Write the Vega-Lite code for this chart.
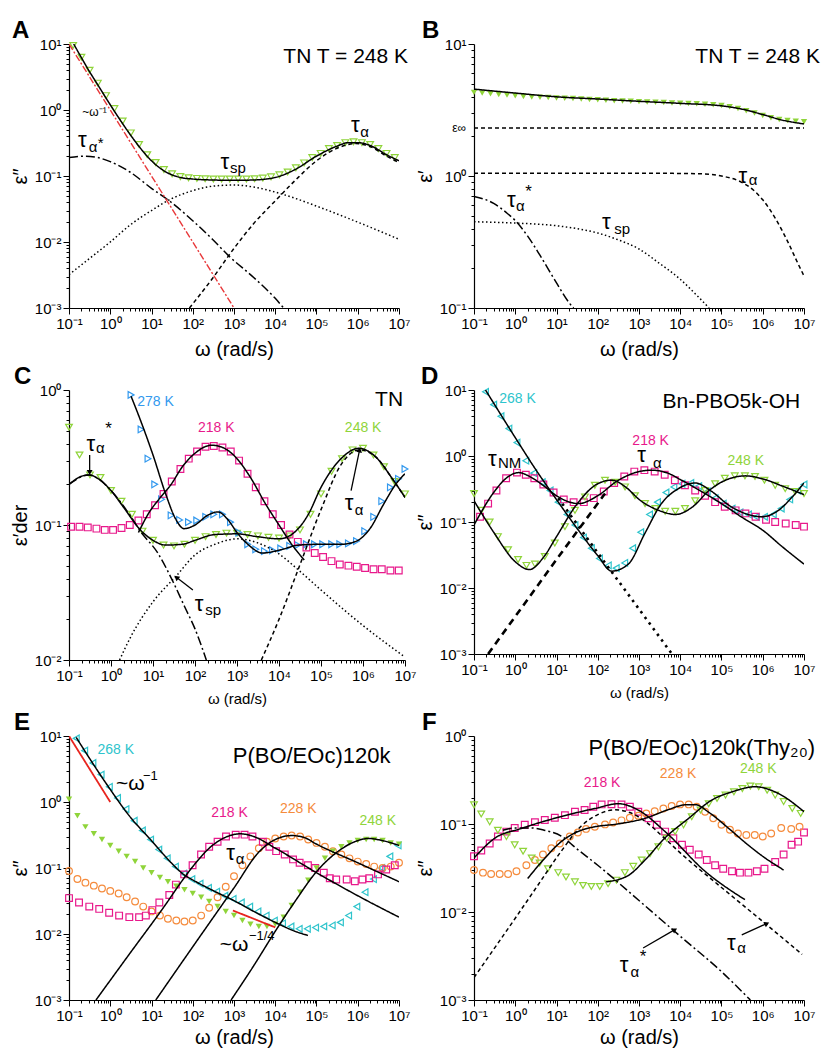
{
"$schema":"https://vega.github.io/schema/vega-lite/v6.json",
"autosize":{"type":"pad"},
"padding":{"left":10,"top":19,"right":5,"bottom":5},
"background":"white",
"columns":2,
"spacing":{"row":76,"column":69},
"bounds":"flush",
"align":"all",
"datasets":{
"A_pts":[{"w":0.126,"e":9.5,"T":"248 K"},{"w":0.2,"e":6.3,"T":"248 K"},{"w":0.316,"e":4.0,"T":"248 K"},{"w":0.5,"e":2.55,"T":"248 K"},{"w":0.79,"e":1.65,"T":"248 K"},{"w":1.26,"e":1.05,"T":"248 K"},{"w":2,"e":0.68,"T":"248 K"},{"w":3.16,"e":0.45,"T":"248 K"},{"w":5,"e":0.3,"T":"248 K"},{"w":7.9,"e":0.21,"T":"248 K"},{"w":12.6,"e":0.16,"T":"248 K"},{"w":20,"e":0.125,"T":"248 K"},{"w":31.6,"e":0.108,"T":"248 K"},{"w":50,"e":0.098,"T":"248 K"},{"w":79,"e":0.094,"T":"248 K"},{"w":126,"e":0.092,"T":"248 K"},{"w":200,"e":0.091,"T":"248 K"},{"w":316,"e":0.09,"T":"248 K"},{"w":500,"e":0.09,"T":"248 K"},{"w":790,"e":0.09,"T":"248 K"},{"w":1260,"e":0.09,"T":"248 K"},{"w":2000,"e":0.09,"T":"248 K"},{"w":3160,"e":0.091,"T":"248 K"},{"w":5000,"e":0.093,"T":"248 K"},{"w":7900,"e":0.097,"T":"248 K"},{"w":12600,"e":0.104,"T":"248 K"},{"w":20000,"e":0.115,"T":"248 K"},{"w":31600,"e":0.133,"T":"248 K"},{"w":50000,"e":0.158,"T":"248 K"},{"w":79000,"e":0.19,"T":"248 K"},{"w":126000,"e":0.22,"T":"248 K"},{"w":200000,"e":0.26,"T":"248 K"},{"w":316000,"e":0.29,"T":"248 K"},{"w":500000,"e":0.32,"T":"248 K"},{"w":790000,"e":0.33,"T":"248 K"},{"w":1260000,"e":0.32,"T":"248 K"},{"w":2000000,"e":0.3,"T":"248 K"},{"w":3160000,"e":0.26,"T":"248 K"},{"w":5000000,"e":0.22,"T":"248 K"},{"w":7900000,"e":0.19,"T":"248 K"}],
"A_lines":[
{"s":"fit","id":"f","w":0.13,"e":10},{"s":"fit","id":"f","w":0.2,"e":6.2},{"s":"fit","id":"f","w":0.3,"e":4.0},{"s":"fit","id":"f","w":0.5,"e":2.4},{"s":"fit","id":"f","w":1,"e":1.2},{"s":"fit","id":"f","w":2,"e":0.62},{"s":"fit","id":"f","w":3,"e":0.43},{"s":"fit","id":"f","w":5,"e":0.28},{"s":"fit","id":"f","w":10,"e":0.17},{"s":"fit","id":"f","w":20,"e":0.12},{"s":"fit","id":"f","w":50,"e":0.095},{"s":"fit","id":"f","w":100,"e":0.09},{"s":"fit","id":"f","w":300,"e":0.087},{"s":"fit","id":"f","w":1000,"e":0.086},{"s":"fit","id":"f","w":3000,"e":0.087},{"s":"fit","id":"f","w":10000,"e":0.095},{"s":"fit","id":"f","w":30000,"e":0.125},{"s":"fit","id":"f","w":100000,"e":0.2},{"s":"fit","id":"f","w":300000,"e":0.28},{"s":"fit","id":"f","w":600000,"e":0.32},{"s":"fit","id":"f","w":1000000,"e":0.32},{"s":"fit","id":"f","w":2000000,"e":0.29},{"s":"fit","id":"f","w":5000000,"e":0.21},{"s":"fit","id":"f","w":10000000,"e":0.17},
{"s":"tas","id":"b","w":0.1,"e":0.19},{"s":"tas","id":"b","w":0.25,"e":0.2},{"s":"tas","id":"b","w":0.5,"e":0.19},{"s":"tas","id":"b","w":1,"e":0.165},{"s":"tas","id":"b","w":3,"e":0.115},{"s":"tas","id":"b","w":10,"e":0.065},{"s":"tas","id":"b","w":30,"e":0.04},{"s":"tas","id":"b","w":100,"e":0.021},{"s":"tas","id":"b","w":300,"e":0.011},{"s":"tas","id":"b","w":780,"e":0.006},{"s":"tas","id":"b","w":3000,"e":0.0029},{"s":"tas","id":"b","w":10000,"e":0.0014},{"s":"tas","id":"b","w":16000,"e":0.001},
{"s":"tsp","id":"c","w":0.1,"e":0.0032},{"s":"tsp","id":"c","w":0.3,"e":0.0055},{"s":"tsp","id":"c","w":1,"e":0.01},{"s":"tsp","id":"c","w":3,"e":0.018},{"s":"tsp","id":"c","w":10,"e":0.03},{"s":"tsp","id":"c","w":30,"e":0.045},{"s":"tsp","id":"c","w":100,"e":0.06},{"s":"tsp","id":"c","w":300,"e":0.07},{"s":"tsp","id":"c","w":1000,"e":0.073},{"s":"tsp","id":"c","w":3000,"e":0.068},{"s":"tsp","id":"c","w":10000,"e":0.057},{"s":"tsp","id":"c","w":30000,"e":0.046},{"s":"tsp","id":"c","w":100000,"e":0.035},{"s":"tsp","id":"c","w":1000000,"e":0.02},{"s":"tsp","id":"c","w":10000000,"e":0.011},
{"s":"ta","id":"d","w":83,"e":0.001},{"s":"ta","id":"d","w":300,"e":0.0028},{"s":"ta","id":"d","w":1000,"e":0.008},{"s":"ta","id":"d","w":3000,"e":0.019},{"s":"ta","id":"d","w":10000,"e":0.042},{"s":"ta","id":"d","w":30000,"e":0.085},{"s":"ta","id":"d","w":100000,"e":0.17},{"s":"ta","id":"d","w":300000,"e":0.26},{"s":"ta","id":"d","w":600000,"e":0.3},{"s":"ta","id":"d","w":900000,"e":0.31},{"s":"ta","id":"d","w":2000000,"e":0.28},{"s":"ta","id":"d","w":5000000,"e":0.2},{"s":"ta","id":"d","w":10000000,"e":0.16}],
"A_red":[{"s":"red","id":"r","w":0.1,"e":10},{"s":"red","id":"r","w":1000,"e":0.001}],
"A_txt":[{"w":0.21,"e":0.93,"t":"~ω⁻¹","k":"small","c":"ink"},{"w":0.166,"e":0.35,"t":"τ","k":"sym","c":"ink"},{"w":0.3,"e":0.278,"t":"α","k":"sub","c":"ink"},{"w":0.5,"e":0.32,"t":"*","k":"sub","c":"ink"},{"w":470,"e":0.165,"t":"τ","k":"sym","c":"ink"},{"w":800,"e":0.13,"t":"sp","k":"sub","c":"ink"},{"w":690000,"e":0.59,"t":"τ","k":"sym","c":"ink"},{"w":1150000,"e":0.47,"t":"α","k":"sub","c":"ink"}],
"A_ttl":[{"w":16600000,"e":6.3,"t":"TN T = 248 K"}],
"B_pts":[{"w":0.1,"e":4.3,"T":"248 K"},{"w":0.158,"e":4.25,"T":"248 K"},{"w":0.251,"e":4.2,"T":"248 K"},{"w":0.398,"e":4.15,"T":"248 K"},{"w":0.631,"e":4.1,"T":"248 K"},{"w":1,"e":4.05,"T":"248 K"},{"w":1.58,"e":4.0,"T":"248 K"},{"w":2.51,"e":3.97,"T":"248 K"},{"w":3.98,"e":3.95,"T":"248 K"},{"w":6.31,"e":3.93,"T":"248 K"},{"w":10,"e":3.9,"T":"248 K"},{"w":15.8,"e":3.88,"T":"248 K"},{"w":25.1,"e":3.86,"T":"248 K"},{"w":39.8,"e":3.83,"T":"248 K"},{"w":63.1,"e":3.8,"T":"248 K"},{"w":100,"e":3.78,"T":"248 K"},{"w":158,"e":3.75,"T":"248 K"},{"w":251,"e":3.72,"T":"248 K"},{"w":398,"e":3.7,"T":"248 K"},{"w":631,"e":3.68,"T":"248 K"},{"w":1000,"e":3.66,"T":"248 K"},{"w":1580,"e":3.64,"T":"248 K"},{"w":2510,"e":3.62,"T":"248 K"},{"w":3980,"e":3.6,"T":"248 K"},{"w":6310,"e":3.58,"T":"248 K"},{"w":10000,"e":3.56,"T":"248 K"},{"w":15800,"e":3.54,"T":"248 K"},{"w":25100,"e":3.52,"T":"248 K"},{"w":39800,"e":3.5,"T":"248 K"},{"w":63100,"e":3.47,"T":"248 K"},{"w":100000,"e":3.42,"T":"248 K"},{"w":158000,"e":3.35,"T":"248 K"},{"w":251000,"e":3.25,"T":"248 K"},{"w":398000,"e":3.12,"T":"248 K"},{"w":631000,"e":3.0,"T":"248 K"},{"w":1000000,"e":2.87,"T":"248 K"},{"w":1580000,"e":2.76,"T":"248 K"},{"w":2510000,"e":2.68,"T":"248 K"},{"w":3980000,"e":2.63,"T":"248 K"},{"w":6310000,"e":2.6,"T":"248 K"},{"w":10000000,"e":2.58,"T":"248 K"}],
"B_lines":[
{"s":"fit","id":"f","w":0.1,"e":4.55},{"s":"fit","id":"f","w":1,"e":4.25},{"s":"fit","id":"f","w":10,"e":3.98},{"s":"fit","id":"f","w":100,"e":3.83},{"s":"fit","id":"f","w":1000,"e":3.68},{"s":"fit","id":"f","w":10000,"e":3.55},{"s":"fit","id":"f","w":100000,"e":3.4},{"s":"fit","id":"f","w":300000,"e":3.22},{"s":"fit","id":"f","w":1000000,"e":2.92},{"s":"fit","id":"f","w":3000000,"e":2.65},{"s":"fit","id":"f","w":10000000,"e":2.48},
{"s":"einf","id":"g","w":0.1,"e":2.31},{"s":"einf","id":"g","w":10000000,"e":2.31},
{"s":"ta","id":"d","w":0.1,"e":1.05},{"s":"ta","id":"d","w":1000,"e":1.05},{"s":"ta","id":"d","w":30000,"e":1.04},{"s":"ta","id":"d","w":100000,"e":1.0},{"s":"ta","id":"d","w":300000,"e":0.9},{"s":"ta","id":"d","w":600000,"e":0.78},{"s":"ta","id":"d","w":1000000,"e":0.66},{"s":"ta","id":"d","w":2000000,"e":0.48},{"s":"ta","id":"d","w":4000000,"e":0.32},{"s":"ta","id":"d","w":7000000,"e":0.22},{"s":"ta","id":"d","w":10000000,"e":0.175},
{"s":"tas","id":"b","w":0.1,"e":0.7},{"s":"tas","id":"b","w":0.3,"e":0.62},{"s":"tas","id":"b","w":0.6,"e":0.53},{"s":"tas","id":"b","w":1,"e":0.46},{"s":"tas","id":"b","w":2,"e":0.35},{"s":"tas","id":"b","w":4,"e":0.25},{"s":"tas","id":"b","w":10,"e":0.155},{"s":"tas","id":"b","w":20,"e":0.11},{"s":"tas","id":"b","w":26,"e":0.1},
{"s":"tsp","id":"c","w":0.1,"e":0.45},{"s":"tsp","id":"c","w":1,"e":0.44},{"s":"tsp","id":"c","w":10,"e":0.42},{"s":"tsp","id":"c","w":30,"e":0.4},{"s":"tsp","id":"c","w":100,"e":0.37},{"s":"tsp","id":"c","w":300,"e":0.33},{"s":"tsp","id":"c","w":1000,"e":0.28},{"s":"tsp","id":"c","w":3000,"e":0.22},{"s":"tsp","id":"c","w":10000,"e":0.165},{"s":"tsp","id":"c","w":25000,"e":0.125},{"s":"tsp","id":"c","w":50000,"e":0.1}],
"B_txt":[{"w":0.0295,"e":2.3,"t":"ε∞","k":"small","c":"ink"},{"w":260000,"e":1.0,"t":"τ","k":"sym","c":"ink"},{"w":460000,"e":0.93,"t":"α","k":"sub","c":"ink"},{"w":0.63,"e":0.66,"t":"τ","k":"sym","c":"ink"},{"w":1.05,"e":0.59,"t":"α","k":"sub","c":"ink"},{"w":1.75,"e":0.75,"t":"*","k":"star","c":"ink"},{"w":126,"e":0.45,"t":"τ","k":"sym","c":"ink"},{"w":250,"e":0.4,"t":"sp","k":"sub","c":"ink"}],
"B_ttl":[{"w":24500000,"e":7.96,"t":"TN T = 248 K"}],
"C_pts":[
{"w":0.1,"e":0.53,"T":"248 K"},{"w":0.178,"e":0.33,"T":"248 K"},{"w":0.316,"e":0.235,"T":"248 K"},{"w":0.562,"e":0.225,"T":"248 K"},{"w":1,"e":0.18,"T":"248 K"},{"w":1.78,"e":0.15,"T":"248 K"},{"w":3.16,"e":0.12,"T":"248 K"},{"w":5.62,"e":0.09,"T":"248 K"},{"w":10,"e":0.077,"T":"248 K"},{"w":17.8,"e":0.071,"T":"248 K"},{"w":31.6,"e":0.07,"T":"248 K"},{"w":56.2,"e":0.072,"T":"248 K"},{"w":100,"e":0.077,"T":"248 K"},{"w":178,"e":0.082,"T":"248 K"},{"w":316,"e":0.085,"T":"248 K"},{"w":562,"e":0.087,"T":"248 K"},{"w":1000,"e":0.087,"T":"248 K"},{"w":1780,"e":0.085,"T":"248 K"},{"w":3160,"e":0.083,"T":"248 K"},{"w":5620,"e":0.081,"T":"248 K"},{"w":10000,"e":0.08,"T":"248 K"},{"w":17800,"e":0.083,"T":"248 K"},{"w":31600,"e":0.092,"T":"248 K"},{"w":56200,"e":0.12,"T":"248 K"},{"w":100000,"e":0.17,"T":"248 K"},{"w":178000,"e":0.25,"T":"248 K"},{"w":316000,"e":0.31,"T":"248 K"},{"w":562000,"e":0.36,"T":"248 K"},{"w":1000000,"e":0.37,"T":"248 K"},{"w":1780000,"e":0.33,"T":"248 K"},{"w":3160000,"e":0.27,"T":"248 K"},{"w":5620000,"e":0.21,"T":"248 K"},{"w":10000000,"e":0.17,"T":"248 K"},
{"w":3,"e":0.92,"T":"278 K"},{"w":5.2,"e":0.51,"T":"278 K"},{"w":7.6,"e":0.31,"T":"278 K"},{"w":11,"e":0.2,"T":"278 K"},{"w":16,"e":0.155,"T":"278 K"},{"w":27,"e":0.118,"T":"278 K"},{"w":43,"e":0.109,"T":"278 K"},{"w":70,"e":0.105,"T":"278 K"},{"w":110,"e":0.108,"T":"278 K"},{"w":180,"e":0.115,"T":"278 K"},{"w":280,"e":0.12,"T":"278 K"},{"w":450,"e":0.12,"T":"278 K"},{"w":700,"e":0.105,"T":"278 K"},{"w":1100,"e":0.088,"T":"278 K"},{"w":1800,"e":0.072,"T":"278 K"},{"w":2800,"e":0.066,"T":"278 K"},{"w":4500,"e":0.064,"T":"278 K"},{"w":7000,"e":0.065,"T":"278 K"},{"w":11000,"e":0.067,"T":"278 K"},{"w":18000,"e":0.07,"T":"278 K"},{"w":28000,"e":0.071,"T":"278 K"},{"w":45000,"e":0.072,"T":"278 K"},{"w":70000,"e":0.072,"T":"278 K"},{"w":110000,"e":0.072,"T":"278 K"},{"w":180000,"e":0.072,"T":"278 K"},{"w":280000,"e":0.072,"T":"278 K"},{"w":450000,"e":0.073,"T":"278 K"},{"w":700000,"e":0.076,"T":"278 K"},{"w":1100000,"e":0.09,"T":"278 K"},{"w":1800000,"e":0.115,"T":"278 K"},{"w":2800000,"e":0.15,"T":"278 K"},{"w":4500000,"e":0.19,"T":"278 K"},{"w":7000000,"e":0.22,"T":"278 K"},{"w":10000000,"e":0.26,"T":"278 K"},
{"w":0.112,"e":0.097,"T":"218 K"},{"w":0.178,"e":0.097,"T":"218 K"},{"w":0.28,"e":0.096,"T":"218 K"},{"w":0.45,"e":0.094,"T":"218 K"},{"w":0.71,"e":0.092,"T":"218 K"},{"w":1.12,"e":0.092,"T":"218 K"},{"w":1.78,"e":0.095,"T":"218 K"},{"w":2.8,"e":0.1,"T":"218 K"},{"w":4.5,"e":0.108,"T":"218 K"},{"w":7.1,"e":0.12,"T":"218 K"},{"w":11.2,"e":0.14,"T":"218 K"},{"w":17.8,"e":0.17,"T":"218 K"},{"w":28,"e":0.21,"T":"218 K"},{"w":45,"e":0.26,"T":"218 K"},{"w":71,"e":0.31,"T":"218 K"},{"w":112,"e":0.35,"T":"218 K"},{"w":178,"e":0.38,"T":"218 K"},{"w":280,"e":0.385,"T":"218 K"},{"w":450,"e":0.375,"T":"218 K"},{"w":710,"e":0.35,"T":"218 K"},{"w":1120,"e":0.3,"T":"218 K"},{"w":1780,"e":0.24,"T":"218 K"},{"w":2800,"e":0.19,"T":"218 K"},{"w":4500,"e":0.15,"T":"218 K"},{"w":7100,"e":0.12,"T":"218 K"},{"w":11200,"e":0.1,"T":"218 K"},{"w":17800,"e":0.085,"T":"218 K"},{"w":28000,"e":0.075,"T":"218 K"},{"w":45000,"e":0.068,"T":"218 K"},{"w":71000,"e":0.062,"T":"218 K"},{"w":112000,"e":0.058,"T":"218 K"},{"w":178000,"e":0.054,"T":"218 K"},{"w":280000,"e":0.051,"T":"218 K"},{"w":450000,"e":0.05,"T":"218 K"},{"w":710000,"e":0.049,"T":"218 K"},{"w":1120000,"e":0.048,"T":"218 K"},{"w":1780000,"e":0.047,"T":"218 K"},{"w":2800000,"e":0.047,"T":"218 K"},{"w":4500000,"e":0.046,"T":"218 K"},{"w":7100000,"e":0.046,"T":"218 K"}],
"C_lines":[
{"s":"fit","id":"g","w":0.1,"e":0.2},{"s":"fit","id":"g","w":0.2,"e":0.23},{"s":"fit","id":"g","w":0.3,"e":0.235},{"s":"fit","id":"g","w":0.5,"e":0.22},{"s":"fit","id":"g","w":1,"e":0.18},{"s":"fit","id":"g","w":2,"e":0.135},{"s":"fit","id":"g","w":5,"e":0.092},{"s":"fit","id":"g","w":10,"e":0.077},{"s":"fit","id":"g","w":20,"e":0.071},{"s":"fit","id":"g","w":50,"e":0.072},{"s":"fit","id":"g","w":100,"e":0.077},{"s":"fit","id":"g","w":300,"e":0.085},{"s":"fit","id":"g","w":1000,"e":0.086},{"s":"fit","id":"g","w":3000,"e":0.082},{"s":"fit","id":"g","w":10000,"e":0.079},{"s":"fit","id":"g","w":20000,"e":0.085},{"s":"fit","id":"g","w":50000,"e":0.12},{"s":"fit","id":"g","w":100000,"e":0.19},{"s":"fit","id":"g","w":300000,"e":0.31},{"s":"fit","id":"g","w":800000,"e":0.37},{"s":"fit","id":"g","w":2000000,"e":0.32},{"s":"fit","id":"g","w":5000000,"e":0.22},{"s":"fit","id":"g","w":10000000,"e":0.16},
{"s":"fit","id":"bl","w":3,"e":0.9},{"s":"fit","id":"bl","w":5,"e":0.6},{"s":"fit","id":"bl","w":10,"e":0.33},{"s":"fit","id":"bl","w":20,"e":0.17},{"s":"fit","id":"bl","w":35,"e":0.11},{"s":"fit","id":"bl","w":55,"e":0.094},{"s":"fit","id":"bl","w":100,"e":0.1},{"s":"fit","id":"bl","w":200,"e":0.118},{"s":"fit","id":"bl","w":350,"e":0.125},{"s":"fit","id":"bl","w":600,"e":0.11},{"s":"fit","id":"bl","w":1000,"e":0.088},{"s":"fit","id":"bl","w":2000,"e":0.07},{"s":"fit","id":"bl","w":4000,"e":0.062},{"s":"fit","id":"bl","w":10000,"e":0.065},{"s":"fit","id":"bl","w":30000,"e":0.071},{"s":"fit","id":"bl","w":100000,"e":0.072},{"s":"fit","id":"bl","w":300000,"e":0.072},{"s":"fit","id":"bl","w":700000,"e":0.076},{"s":"fit","id":"bl","w":1500000,"e":0.095},{"s":"fit","id":"bl","w":3000000,"e":0.14},{"s":"fit","id":"bl","w":6000000,"e":0.2},{"s":"fit","id":"bl","w":10000000,"e":0.24},
{"s":"fit","id":"p","w":4.5,"e":0.088},{"s":"fit","id":"p","w":7.6,"e":0.12},{"s":"fit","id":"p","w":15,"e":0.16},{"s":"fit","id":"p","w":27,"e":0.2},{"s":"fit","id":"p","w":50,"e":0.27},{"s":"fit","id":"p","w":100,"e":0.34},{"s":"fit","id":"p","w":250,"e":0.39},{"s":"fit","id":"p","w":500,"e":0.37},{"s":"fit","id":"p","w":1000,"e":0.31},{"s":"fit","id":"p","w":2000,"e":0.23},{"s":"fit","id":"p","w":5000,"e":0.14},{"s":"fit","id":"p","w":10000,"e":0.1},{"s":"fit","id":"p","w":20000,"e":0.072},{"s":"fit","id":"p","w":40000,"e":0.055},
{"s":"tas","id":"b","w":0.1,"e":0.2},{"s":"tas","id":"b","w":0.3,"e":0.235},{"s":"tas","id":"b","w":0.5,"e":0.22},{"s":"tas","id":"b","w":1,"e":0.18},{"s":"tas","id":"b","w":3,"e":0.115},{"s":"tas","id":"b","w":5,"e":0.09},{"s":"tas","id":"b","w":13,"e":0.062},{"s":"tas","id":"b","w":30,"e":0.038},{"s":"tas","id":"b","w":56,"e":0.025},{"s":"tas","id":"b","w":100,"e":0.017},{"s":"tas","id":"b","w":186,"e":0.01},
{"s":"tsp","id":"c","w":1.6,"e":0.01},{"s":"tsp","id":"c","w":3,"e":0.015},{"s":"tsp","id":"c","w":10,"e":0.027},{"s":"tsp","id":"c","w":36,"e":0.042},{"s":"tsp","id":"c","w":100,"e":0.06},{"s":"tsp","id":"c","w":300,"e":0.072},{"s":"tsp","id":"c","w":1000,"e":0.079},{"s":"tsp","id":"c","w":3000,"e":0.074},{"s":"tsp","id":"c","w":10000,"e":0.061},{"s":"tsp","id":"c","w":30000,"e":0.046},{"s":"tsp","id":"c","w":100000,"e":0.033},{"s":"tsp","id":"c","w":1000000,"e":0.018},{"s":"tsp","id":"c","w":10000000,"e":0.0105},
{"s":"ta","id":"d","w":3800,"e":0.01},{"s":"ta","id":"d","w":10000,"e":0.02},{"s":"ta","id":"d","w":28000,"e":0.046},{"s":"ta","id":"d","w":100000,"e":0.13},{"s":"ta","id":"d","w":300000,"e":0.28},{"s":"ta","id":"d","w":800000,"e":0.36},{"s":"ta","id":"d","w":2000000,"e":0.32},{"s":"ta","id":"d","w":5000000,"e":0.22},{"s":"ta","id":"d","w":10000000,"e":0.16}],
"C_txt":[{"w":4.2,"e":0.82,"t":"278 K","k":"lab","c":"278 K"},{"w":118,"e":0.52,"t":"218 K","k":"lab","c":"218 K"},{"w":370000,"e":0.52,"t":"248 K","k":"lab","c":"248 K"},{"w":0.26,"e":0.4,"t":"τ","k":"sym","c":"ink"},{"w":0.44,"e":0.37,"t":"α","k":"sub","c":"ink"},{"w":0.73,"e":0.51,"t":"*","k":"star","c":"ink"},{"w":370000,"e":0.145,"t":"τ","k":"sym","c":"ink"},{"w":640000,"e":0.13,"t":"α","k":"sub","c":"ink"},{"w":98,"e":0.026,"t":"τ","k":"sym","c":"ink"},{"w":175,"e":0.0235,"t":"sp","k":"sub","c":"ink"}],
"C_ttl":[{"w":9000000,"e":0.84,"t":"TN"}],
"C_arr":[{"a":"a1","w":0.31,"e":0.33,"w2":0.31,"e2":0.245},{"a":"a2","w":520000,"e":0.18,"w2":830000,"e2":0.36},{"a":"a3","w":89,"e":0.033,"w2":36,"e2":0.041}],
"D_pts":[
{"w":0.19,"e":9.4,"T":"268 K"},{"w":0.3,"e":6.0,"T":"268 K"},{"w":0.45,"e":4.0,"T":"268 K"},{"w":0.7,"e":2.6,"T":"268 K"},{"w":1.1,"e":1.6,"T":"268 K"},{"w":1.8,"e":0.85,"T":"268 K"},{"w":2.8,"e":0.55,"T":"268 K"},{"w":4.5,"e":0.4,"T":"268 K"},{"w":7,"e":0.3,"T":"268 K"},{"w":11,"e":0.2,"T":"268 K"},{"w":18,"e":0.13,"T":"268 K"},{"w":28,"e":0.09,"T":"268 K"},{"w":45,"e":0.058,"T":"268 K"},{"w":70,"e":0.04,"T":"268 K"},{"w":110,"e":0.028,"T":"268 K"},{"w":180,"e":0.022,"T":"268 K"},{"w":280,"e":0.02,"T":"268 K"},{"w":450,"e":0.024,"T":"268 K"},{"w":700,"e":0.04,"T":"268 K"},{"w":1100,"e":0.07,"T":"268 K"},{"w":1800,"e":0.13,"T":"268 K"},{"w":2800,"e":0.2,"T":"268 K"},{"w":4500,"e":0.28,"T":"268 K"},{"w":7000,"e":0.34,"T":"268 K"},{"w":11000,"e":0.38,"T":"268 K"},{"w":18000,"e":0.39,"T":"268 K"},{"w":28000,"e":0.35,"T":"268 K"},{"w":45000,"e":0.29,"T":"268 K"},{"w":70000,"e":0.23,"T":"268 K"},{"w":110000,"e":0.19,"T":"268 K"},{"w":180000,"e":0.16,"T":"268 K"},{"w":280000,"e":0.14,"T":"268 K"},{"w":450000,"e":0.13,"T":"268 K"},{"w":700000,"e":0.12,"T":"268 K"},{"w":1100000,"e":0.12,"T":"268 K"},{"w":1800000,"e":0.13,"T":"268 K"},{"w":2800000,"e":0.16,"T":"268 K"},{"w":4500000,"e":0.22,"T":"268 K"},{"w":7000000,"e":0.3,"T":"268 K"},{"w":10000000,"e":0.37,"T":"268 K"},
{"w":0.14,"e":0.12,"T":"218 K"},{"w":0.22,"e":0.19,"T":"218 K"},{"w":0.35,"e":0.3,"T":"218 K"},{"w":0.6,"e":0.46,"T":"218 K"},{"w":1.1,"e":0.56,"T":"218 K"},{"w":1.8,"e":0.52,"T":"218 K"},{"w":2.9,"e":0.46,"T":"218 K"},{"w":4.8,"e":0.37,"T":"218 K"},{"w":8.5,"e":0.28,"T":"218 K"},{"w":15,"e":0.22,"T":"218 K"},{"w":26,"e":0.2,"T":"218 K"},{"w":46,"e":0.2,"T":"218 K"},{"w":80,"e":0.23,"T":"218 K"},{"w":140,"e":0.29,"T":"218 K"},{"w":250,"e":0.39,"T":"218 K"},{"w":440,"e":0.49,"T":"218 K"},{"w":770,"e":0.58,"T":"218 K"},{"w":1350,"e":0.61,"T":"218 K"},{"w":2400,"e":0.58,"T":"218 K"},{"w":4200,"e":0.52,"T":"218 K"},{"w":7400,"e":0.43,"T":"218 K"},{"w":13000,"e":0.36,"T":"218 K"},{"w":23000,"e":0.3,"T":"218 K"},{"w":40000,"e":0.25,"T":"218 K"},{"w":70000,"e":0.2,"T":"218 K"},{"w":120000,"e":0.17,"T":"218 K"},{"w":220000,"e":0.15,"T":"218 K"},{"w":380000,"e":0.135,"T":"218 K"},{"w":670000,"e":0.12,"T":"218 K"},{"w":1200000,"e":0.108,"T":"218 K"},{"w":2000000,"e":0.1,"T":"218 K"},{"w":3600000,"e":0.095,"T":"218 K"},{"w":6300000,"e":0.09,"T":"218 K"},{"w":10000000,"e":0.085,"T":"218 K"},
{"w":0.1,"e":0.27,"T":"248 K"},{"w":0.15,"e":0.15,"T":"248 K"},{"w":0.24,"e":0.1,"T":"248 K"},{"w":0.38,"e":0.06,"T":"248 K"},{"w":0.67,"e":0.038,"T":"248 K"},{"w":1.17,"e":0.027,"T":"248 K"},{"w":1.87,"e":0.022,"T":"248 K"},{"w":3,"e":0.023,"T":"248 K"},{"w":5.2,"e":0.03,"T":"248 K"},{"w":9.1,"e":0.048,"T":"248 K"},{"w":16,"e":0.085,"T":"248 K"},{"w":28,"e":0.15,"T":"248 K"},{"w":49,"e":0.24,"T":"248 K"},{"w":85,"e":0.36,"T":"248 K"},{"w":150,"e":0.43,"T":"248 K"},{"w":265,"e":0.4,"T":"248 K"},{"w":460,"e":0.34,"T":"248 K"},{"w":800,"e":0.25,"T":"248 K"},{"w":1400,"e":0.19,"T":"248 K"},{"w":2500,"e":0.16,"T":"248 K"},{"w":4300,"e":0.145,"T":"248 K"},{"w":7600,"e":0.145,"T":"248 K"},{"w":13000,"e":0.16,"T":"248 K"},{"w":23000,"e":0.21,"T":"248 K"},{"w":40000,"e":0.3,"T":"248 K"},{"w":70000,"e":0.38,"T":"248 K"},{"w":120000,"e":0.46,"T":"248 K"},{"w":210000,"e":0.5,"T":"248 K"},{"w":370000,"e":0.5,"T":"248 K"},{"w":650000,"e":0.49,"T":"248 K"},{"w":1100000,"e":0.43,"T":"248 K"},{"w":2000000,"e":0.36,"T":"248 K"},{"w":3500000,"e":0.32,"T":"248 K"},{"w":6100000,"e":0.29,"T":"248 K"},{"w":10000000,"e":0.27,"T":"248 K"}],
"D_lines":[
{"s":"fit","id":"cy","w":0.19,"e":10},{"s":"fit","id":"cy","w":1,"e":1.9},{"s":"fit","id":"cy","w":3,"e":0.65},{"s":"fit","id":"cy","w":9,"e":0.24},{"s":"fit","id":"cy","w":34,"e":0.075},{"s":"fit","id":"cy","w":100,"e":0.031},{"s":"fit","id":"cy","w":218,"e":0.018},{"s":"fit","id":"cy","w":550,"e":0.023},{"s":"fit","id":"cy","w":1400,"e":0.068},{"s":"fit","id":"cy","w":3500,"e":0.19},{"s":"fit","id":"cy","w":9000,"e":0.32},{"s":"fit","id":"cy","w":23000,"e":0.39},{"s":"fit","id":"cy","w":58000,"e":0.29},{"s":"fit","id":"cy","w":150000,"e":0.18},{"s":"fit","id":"cy","w":370000,"e":0.135},{"s":"fit","id":"cy","w":950000,"e":0.12},{"s":"fit","id":"cy","w":2400000,"e":0.15},{"s":"fit","id":"cy","w":5200000,"e":0.24},{"s":"fit","id":"cy","w":10000000,"e":0.39},
{"s":"fit","id":"p","w":0.1,"e":0.09},{"s":"fit","id":"p","w":0.3,"e":0.28},{"s":"fit","id":"p","w":0.6,"e":0.46},{"s":"fit","id":"p","w":1.2,"e":0.56},{"s":"fit","id":"p","w":2.5,"e":0.47},{"s":"fit","id":"p","w":5,"e":0.35},{"s":"fit","id":"p","w":10,"e":0.25},{"s":"fit","id":"p","w":34,"e":0.19},{"s":"fit","id":"p","w":100,"e":0.25},{"s":"fit","id":"p","w":300,"e":0.42},{"s":"fit","id":"p","w":1000,"e":0.58},{"s":"fit","id":"p","w":2000,"e":0.61},{"s":"fit","id":"p","w":5000,"e":0.55},{"s":"fit","id":"p","w":10000,"e":0.44},{"s":"fit","id":"p","w":30000,"e":0.3},{"s":"fit","id":"p","w":100000,"e":0.19},{"s":"fit","id":"p","w":300000,"e":0.12},{"s":"fit","id":"p","w":1000000,"e":0.075},{"s":"fit","id":"p","w":3000000,"e":0.042},{"s":"fit","id":"p","w":10000000,"e":0.023},
{"s":"fit","id":"g","w":0.1,"e":0.21},{"s":"fit","id":"g","w":0.3,"e":0.07},{"s":"fit","id":"g","w":1,"e":0.025},{"s":"fit","id":"g","w":2.2,"e":0.019},{"s":"fit","id":"g","w":5,"e":0.03},{"s":"fit","id":"g","w":10,"e":0.06},{"s":"fit","id":"g","w":30,"e":0.18},{"s":"fit","id":"g","w":100,"e":0.38},{"s":"fit","id":"g","w":218,"e":0.43},{"s":"fit","id":"g","w":500,"e":0.33},{"s":"fit","id":"g","w":1000,"e":0.22},{"s":"fit","id":"g","w":3000,"e":0.15},{"s":"fit","id":"g","w":7600,"e":0.13},{"s":"fit","id":"g","w":20000,"e":0.17},{"s":"fit","id":"g","w":50000,"e":0.3},{"s":"fit","id":"g","w":150000,"e":0.45},{"s":"fit","id":"g","w":380000,"e":0.5},{"s":"fit","id":"g","w":1000000,"e":0.45},{"s":"fit","id":"g","w":3000000,"e":0.35},{"s":"fit","id":"g","w":10000000,"e":0.26}],
"D_thick":[{"s":"taB","id":"t","w":0.22,"e":0.001},{"s":"taB","id":"t","w":1,"e":0.0037},{"s":"taB","id":"t","w":10,"e":0.027},{"s":"taB","id":"t","w":150,"e":0.27},{"s":"nmB","id":"n","w":11,"e":0.23},{"s":"nmB","id":"n","w":100,"e":0.034},{"s":"nmB","id":"n","w":1000,"e":0.0048},{"s":"nmB","id":"n","w":6300,"e":0.001}],
"D_txt":[{"w":0.41,"e":7.4,"t":"268 K","k":"lab","c":"268 K"},{"w":690,"e":1.69,"t":"218 K","k":"lab","c":"218 K"},{"w":140000,"e":0.83,"t":"248 K","k":"lab","c":"248 K"},{"w":0.22,"e":0.91,"t":"τ","k":"sym","c":"ink"},{"w":0.38,"e":0.77,"t":"NM","k":"sub","c":"ink"},{"w":910,"e":1.02,"t":"τ","k":"sym","c":"ink"},{"w":2200,"e":0.79,"t":"α","k":"sub","c":"ink"}],
"D_ttl":[{"w":8100000,"e":6.6,"t":"Bn-PBO5k-OH"}],
"E_pts":[
{"w":0.15,"e":9.2,"T":"268 K"},{"w":0.24,"e":6.0,"T":"268 K"},{"w":0.38,"e":3.9,"T":"268 K"},{"w":0.6,"e":2.6,"T":"268 K"},{"w":0.95,"e":1.7,"T":"268 K"},{"w":1.5,"e":1.15,"T":"268 K"},{"w":2.4,"e":0.78,"T":"268 K"},{"w":3.8,"e":0.52,"T":"268 K"},{"w":6,"e":0.37,"T":"268 K"},{"w":9.5,"e":0.27,"T":"268 K"},{"w":15,"e":0.19,"T":"268 K"},{"w":24,"e":0.14,"T":"268 K"},{"w":38,"e":0.105,"T":"268 K"},{"w":60,"e":0.082,"T":"268 K"},{"w":95,"e":0.068,"T":"268 K"},{"w":150,"e":0.058,"T":"268 K"},{"w":240,"e":0.05,"T":"268 K"},{"w":380,"e":0.044,"T":"268 K"},{"w":600,"e":0.038,"T":"268 K"},{"w":950,"e":0.034,"T":"268 K"},{"w":1500,"e":0.03,"T":"268 K"},{"w":2400,"e":0.026,"T":"268 K"},{"w":3800,"e":0.022,"T":"268 K"},{"w":6000,"e":0.019,"T":"268 K"},{"w":9500,"e":0.016,"T":"268 K"},{"w":15000,"e":0.0145,"T":"268 K"},{"w":24000,"e":0.013,"T":"268 K"},{"w":38000,"e":0.012,"T":"268 K"},{"w":60000,"e":0.012,"T":"268 K"},{"w":95000,"e":0.0125,"T":"268 K"},{"w":150000,"e":0.013,"T":"268 K"},{"w":240000,"e":0.0135,"T":"268 K"},{"w":380000,"e":0.015,"T":"268 K"},{"w":600000,"e":0.019,"T":"268 K"},{"w":950000,"e":0.026,"T":"268 K"},{"w":1500000,"e":0.043,"T":"268 K"},{"w":2400000,"e":0.068,"T":"268 K"},{"w":3800000,"e":0.1,"T":"268 K"},{"w":6000000,"e":0.15,"T":"268 K"},{"w":9500000,"e":0.22,"T":"268 K"},
{"w":0.1,"e":0.09,"T":"228 K"},{"w":0.16,"e":0.068,"T":"228 K"},{"w":0.25,"e":0.06,"T":"228 K"},{"w":0.4,"e":0.054,"T":"228 K"},{"w":0.63,"e":0.049,"T":"228 K"},{"w":1,"e":0.045,"T":"228 K"},{"w":1.6,"e":0.041,"T":"228 K"},{"w":2.5,"e":0.036,"T":"228 K"},{"w":4,"e":0.031,"T":"228 K"},{"w":6.3,"e":0.026,"T":"228 K"},{"w":10,"e":0.022,"T":"228 K"},{"w":16,"e":0.019,"T":"228 K"},{"w":25,"e":0.017,"T":"228 K"},{"w":40,"e":0.016,"T":"228 K"},{"w":63,"e":0.0155,"T":"228 K"},{"w":100,"e":0.016,"T":"228 K"},{"w":160,"e":0.019,"T":"228 K"},{"w":250,"e":0.025,"T":"228 K"},{"w":400,"e":0.036,"T":"228 K"},{"w":630,"e":0.052,"T":"228 K"},{"w":1000,"e":0.075,"T":"228 K"},{"w":1600,"e":0.11,"T":"228 K"},{"w":2500,"e":0.15,"T":"228 K"},{"w":4000,"e":0.2,"T":"228 K"},{"w":6300,"e":0.25,"T":"228 K"},{"w":10000,"e":0.28,"T":"228 K"},{"w":16000,"e":0.3,"T":"228 K"},{"w":25000,"e":0.31,"T":"228 K"},{"w":40000,"e":0.3,"T":"228 K"},{"w":63000,"e":0.27,"T":"228 K"},{"w":100000,"e":0.24,"T":"228 K"},{"w":160000,"e":0.21,"T":"228 K"},{"w":250000,"e":0.18,"T":"228 K"},{"w":400000,"e":0.16,"T":"228 K"},{"w":630000,"e":0.14,"T":"228 K"},{"w":1000000,"e":0.125,"T":"228 K"},{"w":1600000,"e":0.115,"T":"228 K"},{"w":2500000,"e":0.105,"T":"228 K"},{"w":4000000,"e":0.1,"T":"228 K"},{"w":6300000,"e":0.105,"T":"228 K"},{"w":10000000,"e":0.12,"T":"228 K"},
{"w":0.1,"e":0.035,"T":"218 K"},{"w":0.175,"e":0.03,"T":"218 K"},{"w":0.31,"e":0.026,"T":"218 K"},{"w":0.54,"e":0.024,"T":"218 K"},{"w":0.94,"e":0.021,"T":"218 K"},{"w":1.64,"e":0.019,"T":"218 K"},{"w":2.9,"e":0.018,"T":"218 K"},{"w":5,"e":0.018,"T":"218 K"},{"w":7.3,"e":0.019,"T":"218 K"},{"w":10.5,"e":0.023,"T":"218 K"},{"w":15.5,"e":0.03,"T":"218 K"},{"w":27,"e":0.039,"T":"218 K"},{"w":39,"e":0.056,"T":"218 K"},{"w":62,"e":0.08,"T":"218 K"},{"w":99,"e":0.11,"T":"218 K"},{"w":159,"e":0.16,"T":"218 K"},{"w":250,"e":0.21,"T":"218 K"},{"w":400,"e":0.25,"T":"218 K"},{"w":640,"e":0.3,"T":"218 K"},{"w":1100,"e":0.32,"T":"218 K"},{"w":1800,"e":0.32,"T":"218 K"},{"w":2800,"e":0.3,"T":"218 K"},{"w":5000,"e":0.25,"T":"218 K"},{"w":7200,"e":0.21,"T":"218 K"},{"w":10500,"e":0.18,"T":"218 K"},{"w":17000,"e":0.16,"T":"218 K"},{"w":27000,"e":0.135,"T":"218 K"},{"w":39000,"e":0.12,"T":"218 K"},{"w":62000,"e":0.11,"T":"218 K"},{"w":93000,"e":0.1,"T":"218 K"},{"w":150000,"e":0.085,"T":"218 K"},{"w":210000,"e":0.07,"T":"218 K"},{"w":300000,"e":0.067,"T":"218 K"},{"w":540000,"e":0.067,"T":"218 K"},{"w":850000,"e":0.063,"T":"218 K"},{"w":1300000,"e":0.067,"T":"218 K"},{"w":1900000,"e":0.07,"T":"218 K"},{"w":3100000,"e":0.08,"T":"218 K"},{"w":4900000,"e":0.095,"T":"218 K"},{"w":7900000,"e":0.11,"T":"218 K"}],
"E_ptsF":[{"w":0.1,"e":1.1,"T":"248 K"},{"w":0.16,"e":0.62,"T":"248 K"},{"w":0.25,"e":0.42,"T":"248 K"},{"w":0.4,"e":0.33,"T":"248 K"},{"w":0.63,"e":0.27,"T":"248 K"},{"w":1,"e":0.22,"T":"248 K"},{"w":1.6,"e":0.18,"T":"248 K"},{"w":2.5,"e":0.15,"T":"248 K"},{"w":4,"e":0.125,"T":"248 K"},{"w":6.3,"e":0.1,"T":"248 K"},{"w":10,"e":0.085,"T":"248 K"},{"w":16,"e":0.072,"T":"248 K"},{"w":25,"e":0.062,"T":"248 K"},{"w":40,"e":0.053,"T":"248 K"},{"w":63,"e":0.047,"T":"248 K"},{"w":100,"e":0.041,"T":"248 K"},{"w":160,"e":0.036,"T":"248 K"},{"w":250,"e":0.031,"T":"248 K"},{"w":400,"e":0.026,"T":"248 K"},{"w":630,"e":0.022,"T":"248 K"},{"w":1000,"e":0.019,"T":"248 K"},{"w":1600,"e":0.016,"T":"248 K"},{"w":2500,"e":0.014,"T":"248 K"},{"w":4000,"e":0.013,"T":"248 K"},{"w":6300,"e":0.013,"T":"248 K"},{"w":10000,"e":0.014,"T":"248 K"},{"w":16000,"e":0.018,"T":"248 K"},{"w":25000,"e":0.027,"T":"248 K"},{"w":40000,"e":0.043,"T":"248 K"},{"w":63000,"e":0.065,"T":"248 K"},{"w":100000,"e":0.1,"T":"248 K"},{"w":160000,"e":0.14,"T":"248 K"},{"w":250000,"e":0.18,"T":"248 K"},{"w":400000,"e":0.21,"T":"248 K"},{"w":630000,"e":0.24,"T":"248 K"},{"w":1000000,"e":0.26,"T":"248 K"},{"w":1600000,"e":0.27,"T":"248 K"},{"w":2500000,"e":0.27,"T":"248 K"},{"w":4000000,"e":0.26,"T":"248 K"},{"w":6300000,"e":0.24,"T":"248 K"},{"w":10000000,"e":0.23,"T":"248 K"}],
"E_lines":[
{"s":"fit","id":"cy","w":0.15,"e":9.5},{"s":"fit","id":"cy","w":0.3,"e":4.8},{"s":"fit","id":"cy","w":1,"e":1.55},{"s":"fit","id":"cy","w":3,"e":0.6},{"s":"fit","id":"cy","w":10,"e":0.26},{"s":"fit","id":"cy","w":30,"e":0.12},{"s":"fit","id":"cy","w":60,"e":0.08},{"s":"fit","id":"cy","w":100,"e":0.066},{"s":"fit","id":"cy","w":300,"e":0.046},{"s":"fit","id":"cy","w":1000,"e":0.032},{"s":"fit","id":"cy","w":3000,"e":0.022},{"s":"fit","id":"cy","w":10000,"e":0.015},{"s":"fit","id":"cy","w":30000,"e":0.011},{"s":"fit","id":"cy","w":62000,"e":0.0095},
{"s":"fit","id":"p","w":0.45,"e":0.001},{"s":"fit","id":"p","w":3,"e":0.0051},{"s":"fit","id":"p","w":22,"e":0.028},{"s":"fit","id":"p","w":56,"e":0.065},{"s":"fit","id":"p","w":100,"e":0.105},{"s":"fit","id":"p","w":300,"e":0.22},{"s":"fit","id":"p","w":800,"e":0.31},{"s":"fit","id":"p","w":1400,"e":0.33},{"s":"fit","id":"p","w":3000,"e":0.3},{"s":"fit","id":"p","w":10000,"e":0.2},{"s":"fit","id":"p","w":100000,"e":0.085},{"s":"fit","id":"p","w":1000000,"e":0.038},{"s":"fit","id":"p","w":10000000,"e":0.018},
{"s":"fit","id":"o","w":12.7,"e":0.001},{"s":"fit","id":"o","w":100,"e":0.0064},{"s":"fit","id":"o","w":1000,"e":0.05},{"s":"fit","id":"o","w":4200,"e":0.18},{"s":"fit","id":"o","w":10000,"e":0.27},{"s":"fit","id":"o","w":25000,"e":0.31},{"s":"fit","id":"o","w":50000,"e":0.29},{"s":"fit","id":"o","w":100000,"e":0.23},{"s":"fit","id":"o","w":1000000,"e":0.12},{"s":"fit","id":"o","w":10000000,"e":0.062},
{"s":"fit","id":"g","w":850,"e":0.001},{"s":"fit","id":"g","w":3000,"e":0.0033},{"s":"fit","id":"g","w":10000,"e":0.011},{"s":"fit","id":"g","w":30000,"e":0.031},{"s":"fit","id":"g","w":100000,"e":0.088},{"s":"fit","id":"g","w":300000,"e":0.17},{"s":"fit","id":"g","w":1000000,"e":0.26},{"s":"fit","id":"g","w":1800000,"e":0.28},{"s":"fit","id":"g","w":4000000,"e":0.26},{"s":"fit","id":"g","w":10000000,"e":0.22}],
"E_red":[{"s":"redS","id":"r1","w":0.1,"e":10},{"s":"redS","id":"r1","w":1,"e":1},{"s":"redS","id":"r2","w":940,"e":0.0227},{"s":"redS","id":"r2","w":10000,"e":0.0126}],
"E_txt":[{"w":0.49,"e":6.2,"t":"268 K","k":"lab","c":"268 K"},{"w":1.37,"e":1.87,"t":"~ω","k":"big","c":"ink"},{"w":6.2,"e":2.45,"t":"−1","k":"sup","c":"ink"},{"w":280,"e":0.68,"t":"218 K","k":"lab","c":"218 K"},{"w":13000,"e":0.79,"t":"228 K","k":"lab","c":"228 K"},{"w":1100000,"e":0.51,"t":"248 K","k":"lab","c":"248 K"},{"w":650,"e":0.17,"t":"τ","k":"sym","c":"ink"},{"w":1100,"e":0.137,"t":"α","k":"sub","c":"ink"},{"w":450,"e":0.0069,"t":"~ω","k":"big","c":"ink"},{"w":2300,"e":0.0092,"t":"−1/4","k":"sup","c":"ink"}],
"E_ttl":[{"w":6200000,"e":4.9,"t":"P(BO/EOc)120k"}],
"F_pts":[
{"w":0.1,"e":0.043,"T":"218 K"},{"w":0.15,"e":0.05,"T":"218 K"},{"w":0.24,"e":0.06,"T":"218 K"},{"w":0.38,"e":0.072,"T":"218 K"},{"w":0.61,"e":0.082,"T":"218 K"},{"w":0.97,"e":0.09,"T":"218 K"},{"w":1.7,"e":0.098,"T":"218 K"},{"w":3,"e":0.105,"T":"218 K"},{"w":5.2,"e":0.111,"T":"218 K"},{"w":9.1,"e":0.118,"T":"218 K"},{"w":16,"e":0.126,"T":"218 K"},{"w":28,"e":0.138,"T":"218 K"},{"w":48,"e":0.144,"T":"218 K"},{"w":78,"e":0.157,"T":"218 K"},{"w":124,"e":0.167,"T":"218 K"},{"w":215,"e":0.168,"T":"218 K"},{"w":377,"e":0.167,"T":"218 K"},{"w":600,"e":0.157,"T":"218 K"},{"w":960,"e":0.138,"T":"218 K"},{"w":1700,"e":0.116,"T":"218 K"},{"w":2700,"e":0.098,"T":"218 K"},{"w":4300,"e":0.082,"T":"218 K"},{"w":6800,"e":0.069,"T":"218 K"},{"w":11000,"e":0.058,"T":"218 K"},{"w":17000,"e":0.051,"T":"218 K"},{"w":28000,"e":0.045,"T":"218 K"},{"w":44000,"e":0.039,"T":"218 K"},{"w":70000,"e":0.034,"T":"218 K"},{"w":110000,"e":0.031,"T":"218 K"},{"w":180000,"e":0.029,"T":"218 K"},{"w":280000,"e":0.028,"T":"218 K"},{"w":450000,"e":0.028,"T":"218 K"},{"w":720000,"e":0.029,"T":"218 K"},{"w":1100000,"e":0.031,"T":"218 K"},{"w":2000000,"e":0.037,"T":"218 K"},{"w":3200000,"e":0.045,"T":"218 K"},{"w":5000000,"e":0.058,"T":"218 K"},{"w":7200000,"e":0.063,"T":"218 K"},{"w":10000000,"e":0.08,"T":"218 K"},
{"w":0.1,"e":0.03,"T":"228 K"},{"w":0.165,"e":0.028,"T":"228 K"},{"w":0.26,"e":0.027,"T":"228 K"},{"w":0.42,"e":0.027,"T":"228 K"},{"w":0.67,"e":0.027,"T":"228 K"},{"w":1.07,"e":0.029,"T":"228 K"},{"w":1.86,"e":0.034,"T":"228 K"},{"w":3,"e":0.039,"T":"228 K"},{"w":4.7,"e":0.045,"T":"228 K"},{"w":7.5,"e":0.053,"T":"228 K"},{"w":12,"e":0.06,"T":"228 K"},{"w":21,"e":0.072,"T":"228 K"},{"w":33,"e":0.08,"T":"228 K"},{"w":52,"e":0.088,"T":"228 K"},{"w":85,"e":0.093,"T":"228 K"},{"w":150,"e":0.099,"T":"228 K"},{"w":236,"e":0.104,"T":"228 K"},{"w":377,"e":0.11,"T":"228 K"},{"w":600,"e":0.118,"T":"228 K"},{"w":960,"e":0.124,"T":"228 K"},{"w":1500,"e":0.132,"T":"228 K"},{"w":2400,"e":0.14,"T":"228 K"},{"w":3900,"e":0.15,"T":"228 K"},{"w":6200,"e":0.16,"T":"228 K"},{"w":9900,"e":0.167,"T":"228 K"},{"w":16000,"e":0.167,"T":"228 K"},{"w":25000,"e":0.157,"T":"228 K"},{"w":40000,"e":0.138,"T":"228 K"},{"w":63000,"e":0.116,"T":"228 K"},{"w":100000,"e":0.098,"T":"228 K"},{"w":160000,"e":0.086,"T":"228 K"},{"w":250000,"e":0.078,"T":"228 K"},{"w":400000,"e":0.075,"T":"228 K"},{"w":640000,"e":0.075,"T":"228 K"},{"w":1000000,"e":0.072,"T":"228 K"},{"w":1600000,"e":0.078,"T":"228 K"},{"w":2800000,"e":0.09,"T":"228 K"},{"w":4900000,"e":0.088,"T":"228 K"},{"w":7800000,"e":0.093,"T":"228 K"},
{"w":0.1,"e":0.165,"T":"248 K"},{"w":0.15,"e":0.13,"T":"248 K"},{"w":0.24,"e":0.106,"T":"248 K"},{"w":0.38,"e":0.085,"T":"248 K"},{"w":0.61,"e":0.072,"T":"248 K"},{"w":0.97,"e":0.058,"T":"248 K"},{"w":1.55,"e":0.049,"T":"248 K"},{"w":2.5,"e":0.041,"T":"248 K"},{"w":3.9,"e":0.036,"T":"248 K"},{"w":6.2,"e":0.031,"T":"248 K"},{"w":11,"e":0.028,"T":"248 K"},{"w":17,"e":0.025,"T":"248 K"},{"w":28,"e":0.022,"T":"248 K"},{"w":44,"e":0.02,"T":"248 K"},{"w":70,"e":0.0195,"T":"248 K"},{"w":112,"e":0.0195,"T":"248 K"},{"w":178,"e":0.021,"T":"248 K"},{"w":284,"e":0.023,"T":"248 K"},{"w":454,"e":0.028,"T":"248 K"},{"w":725,"e":0.033,"T":"248 K"},{"w":1160,"e":0.039,"T":"248 K"},{"w":1850,"e":0.046,"T":"248 K"},{"w":2950,"e":0.055,"T":"248 K"},{"w":4700,"e":0.069,"T":"248 K"},{"w":7500,"e":0.082,"T":"248 K"},{"w":12000,"e":0.098,"T":"248 K"},{"w":19000,"e":0.121,"T":"248 K"},{"w":31000,"e":0.144,"T":"248 K"},{"w":49000,"e":0.17,"T":"248 K"},{"w":78000,"e":0.195,"T":"248 K"},{"w":125000,"e":0.213,"T":"248 K"},{"w":200000,"e":0.232,"T":"248 K"},{"w":320000,"e":0.253,"T":"248 K"},{"w":500000,"e":0.27,"T":"248 K"},{"w":800000,"e":0.265,"T":"248 K"},{"w":1280000,"e":0.242,"T":"248 K"},{"w":2000000,"e":0.213,"T":"248 K"},{"w":3200000,"e":0.18,"T":"248 K"},{"w":5200000,"e":0.15,"T":"248 K"},{"w":8300000,"e":0.132,"T":"248 K"}],
"F_lines":[
{"s":"fit","id":"p","w":0.1,"e":0.041},{"s":"fit","id":"p","w":0.32,"e":0.069},{"s":"fit","id":"p","w":1.4,"e":0.089},{"s":"fit","id":"p","w":9,"e":0.116},{"s":"fit","id":"p","w":85,"e":0.15},{"s":"fit","id":"p","w":316,"e":0.17},{"s":"fit","id":"p","w":960,"e":0.144},{"s":"fit","id":"p","w":4300,"e":0.082},{"s":"fit","id":"p","w":40000,"e":0.029},{"s":"fit","id":"p","w":370000,"e":0.0138},
{"s":"fit","id":"o","w":2,"e":0.024},{"s":"fit","id":"o","w":5,"e":0.04},{"s":"fit","id":"o","w":13,"e":0.063},{"s":"fit","id":"o","w":40,"e":0.085},{"s":"fit","id":"o","w":85,"e":0.093},{"s":"fit","id":"o","w":300,"e":0.1},{"s":"fit","id":"o","w":1400,"e":0.116},{"s":"fit","id":"o","w":5000,"e":0.145},{"s":"fit","id":"o","w":13000,"e":0.165},{"s":"fit","id":"o","w":23000,"e":0.166},{"s":"fit","id":"o","w":50000,"e":0.135},{"s":"fit","id":"o","w":150000,"e":0.089},{"s":"fit","id":"o","w":400000,"e":0.06},{"s":"fit","id":"o","w":930000,"e":0.044},{"s":"fit","id":"o","w":3200000,"e":0.03},
{"s":"fit","id":"g","w":160,"e":0.022},{"s":"fit","id":"g","w":550,"e":0.026},{"s":"fit","id":"g","w":1400,"e":0.039},{"s":"fit","id":"g","w":4200,"e":0.069},{"s":"fit","id":"g","w":16000,"e":0.116},{"s":"fit","id":"g","w":58000,"e":0.187},{"s":"fit","id":"g","w":180000,"e":0.232},{"s":"fit","id":"g","w":650000,"e":0.265},{"s":"fit","id":"g","w":2400000,"e":0.222},{"s":"fit","id":"g","w":10000000,"e":0.138},
{"s":"ta","id":"d","w":0.1,"e":0.0018},{"s":"ta","id":"d","w":1,"e":0.0085},{"s":"ta","id":"d","w":3,"e":0.018},{"s":"ta","id":"d","w":13,"e":0.049},{"s":"ta","id":"d","w":40,"e":0.095},{"s":"ta","id":"d","w":100,"e":0.128},{"s":"ta","id":"d","w":260,"e":0.145},{"s":"ta","id":"d","w":600,"e":0.135},{"s":"ta","id":"d","w":1500,"e":0.105},{"s":"ta","id":"d","w":4000,"e":0.07},{"s":"ta","id":"d","w":10000,"e":0.047},{"s":"ta","id":"d","w":100000,"e":0.019},{"s":"ta","id":"d","w":1000000,"e":0.0078},{"s":"ta","id":"d","w":9000000,"e":0.0033},
{"s":"tas","id":"b","w":0.5,"e":0.085},{"s":"tas","id":"b","w":1,"e":0.09},{"s":"tas","id":"b","w":2.5,"e":0.09},{"s":"tas","id":"b","w":5,"e":0.085},{"s":"tas","id":"b","w":13,"e":0.073},{"s":"tas","id":"b","w":30,"e":0.053},{"s":"tas","id":"b","w":100,"e":0.034},{"s":"tas","id":"b","w":1000,"e":0.0135},{"s":"tas","id":"b","w":10000,"e":0.0053},{"s":"tas","id":"b","w":100000,"e":0.0021},{"s":"tas","id":"b","w":500000,"e":0.001}],
"F_txt":[{"w":46,"e":0.29,"t":"218 K","k":"lab","c":"218 K"},{"w":3200,"e":0.37,"t":"228 K","k":"lab","c":"228 K"},{"w":280000,"e":0.42,"t":"248 K","k":"lab","c":"248 K"},{"w":343,"e":0.0025,"t":"τ","k":"sym","c":"ink"},{"w":620,"e":0.0021,"t":"α","k":"sub","c":"ink"},{"w":1050,"e":0.0031,"t":"*","k":"star","c":"ink"},{"w":135000,"e":0.0044,"t":"τ","k":"sym","c":"ink"},{"w":240000,"e":0.0039,"t":"α","k":"sub","c":"ink"}],
"F_ttl":[{"w":18600000,"e":0.74,"t":"P(BO/EOc)120k(Thy₂₀)"}],
"F_arr":[{"a":"b1","w":1260,"e":0.0039,"w2":7400,"e2":0.0063},{"a":"b2","w":310000,"e":0.0055,"w2":1260000,"e2":0.0074}]
},
"concat":[
{"width":330,"height":264,"title":{"text":"A","dx":-57},
"encoding":{"x":{"field":"w","type":"quantitative","scale":{"type":"log","domain":[0.1,1e7],"nice":false},"axis":{"title":"ω (rad/s)","titlePadding":8}},"y":{"field":"e","type":"quantitative","scale":{"type":"log","domain":[0.001,10],"nice":false},"axis":{"title":"ε″"}}},
"layer":[
{"data":{"name":"A_pts"},"mark":{"type":"point","filled":false,"size":45,"strokeWidth":1.2,"opacity":1},"encoding":{"shape":{"field":"T","type":"nominal","scale":{"domain":["218 K","228 K","248 K","268 K","278 K"],"range":["square","circle","triangle-down","triangle-left","triangle-right"]},"legend":null},"color":{"field":"T","type":"nominal","scale":{"domain":["218 K","228 K","248 K","268 K","278 K","ink"],"range":["#e8198b","#f58b3c","#8fd43a","#2ec4cc","#3399ee","#000000"]},"legend":null}}},
{"data":{"name":"A_lines"},"mark":{"type":"line","interpolate":"monotone","color":"#000","strokeWidth":1.5,"clip":true},"encoding":{"strokeDash":{"field":"s","type":"nominal","scale":{"domain":["fit","ta","tas","tsp","einf","taB","nmB","red","redS"],"range":[[1,0],[4,3],[9,3,2,3],[1.5,2.5],[4,3],[7,5],[2.5,4.5],[7,2,2,2],[1,0]]},"legend":null},"detail":{"field":"id"}}},
{"data":{"name":"A_red"},"mark":{"type":"line","color":"#e8383a","strokeWidth":1.4,"clip":true},"encoding":{"strokeDash":{"field":"s","type":"nominal","scale":{"domain":["fit","ta","tas","tsp","einf","taB","nmB","red","redS"],"range":[[1,0],[4,3],[9,3,2,3],[1.5,2.5],[4,3],[7,5],[2.5,4.5],[7,2,2,2],[1,0]]},"legend":null},"detail":{"field":"id"}}},
{"data":{"name":"A_txt"},"mark":{"type":"text","align":"left","baseline":"middle"},"encoding":{"text":{"field":"t"},"size":{"field":"k","type":"nominal","scale":{"type":"ordinal","domain":["sym","sub","lab","small","star","big","sup"],"range":[22,15,14,12,17,21,13]},"legend":null},"color":{"field":"c","type":"nominal","scale":{"domain":["218 K","228 K","248 K","268 K","278 K","ink"],"range":["#e8198b","#f58b3c","#8fd43a","#2ec4cc","#3399ee","#000000"]},"legend":null}}},
{"data":{"name":"A_ttl"},"mark":{"type":"text","align":"right","baseline":"middle","fontSize":21,"color":"#000"},"encoding":{"text":{"field":"t"}}}
]},
{"width":330,"height":264,"title":{"text":"B","dx":-52},
"encoding":{"x":{"field":"w","type":"quantitative","scale":{"type":"log","domain":[0.1,1e7],"nice":false},"axis":{"title":"ω (rad/s)","titlePadding":8}},"y":{"field":"e","type":"quantitative","scale":{"type":"log","domain":[0.1,10],"nice":false},"axis":{"title":"ε′"}}},
"layer":[
{"data":{"name":"B_pts"},"mark":{"type":"point","filled":true,"size":40,"opacity":1},"encoding":{"shape":{"field":"T","type":"nominal","scale":{"domain":["218 K","228 K","248 K","268 K","278 K"],"range":["square","circle","triangle-down","triangle-left","triangle-right"]},"legend":null},"color":{"field":"T","type":"nominal","scale":{"domain":["218 K","228 K","248 K","268 K","278 K","ink"],"range":["#e8198b","#f58b3c","#8fd43a","#2ec4cc","#3399ee","#000000"]},"legend":null}}},
{"data":{"name":"B_lines"},"mark":{"type":"line","interpolate":"monotone","color":"#000","strokeWidth":1.5,"clip":true},"encoding":{"strokeDash":{"field":"s","type":"nominal","scale":{"domain":["fit","ta","tas","tsp","einf","taB","nmB","red","redS"],"range":[[1,0],[4,3],[9,3,2,3],[1.5,2.5],[4,3],[7,5],[2.5,4.5],[7,2,2,2],[1,0]]},"legend":null},"detail":{"field":"id"}}},
{"data":{"name":"B_txt"},"mark":{"type":"text","align":"left","baseline":"middle"},"encoding":{"text":{"field":"t"},"size":{"field":"k","type":"nominal","scale":{"type":"ordinal","domain":["sym","sub","lab","small","star","big","sup"],"range":[22,15,14,12,17,21,13]},"legend":null},"color":{"field":"c","type":"nominal","scale":{"domain":["218 K","228 K","248 K","268 K","278 K","ink"],"range":["#e8198b","#f58b3c","#8fd43a","#2ec4cc","#3399ee","#000000"]},"legend":null}}},
{"data":{"name":"B_ttl"},"mark":{"type":"text","align":"right","baseline":"middle","fontSize":21,"color":"#000"},"encoding":{"text":{"field":"t"}}}
]},
{"width":336,"height":270,"title":{"text":"C","dx":-55},
"encoding":{"x":{"field":"w","type":"quantitative","scale":{"type":"log","domain":[0.1,1e7],"nice":false},"axis":{"title":"ω (rad/s)","titleFontSize":15,"titlePadding":8}},"y":{"field":"e","type":"quantitative","scale":{"type":"log","domain":[0.01,1],"nice":false},"axis":{"title":"ε′der"}}},
"layer":[
{"data":{"name":"C_pts"},"mark":{"type":"point","filled":false,"size":45,"strokeWidth":1.2,"opacity":1},"encoding":{"shape":{"field":"T","type":"nominal","scale":{"domain":["218 K","228 K","248 K","268 K","278 K"],"range":["square","circle","triangle-down","triangle-left","triangle-right"]},"legend":null},"color":{"field":"T","type":"nominal","scale":{"domain":["218 K","228 K","248 K","268 K","278 K","ink"],"range":["#e8198b","#f58b3c","#8fd43a","#2ec4cc","#3399ee","#000000"]},"legend":null}}},
{"data":{"name":"C_lines"},"mark":{"type":"line","interpolate":"monotone","color":"#000","strokeWidth":1.5,"clip":true},"encoding":{"strokeDash":{"field":"s","type":"nominal","scale":{"domain":["fit","ta","tas","tsp","einf","taB","nmB","red","redS"],"range":[[1,0],[4,3],[9,3,2,3],[1.5,2.5],[4,3],[7,5],[2.5,4.5],[7,2,2,2],[1,0]]},"legend":null},"detail":{"field":"id"}}},
{"data":{"name":"C_arr"},"mark":{"type":"rule","color":"#000","strokeWidth":1.3},"encoding":{"x2":{"field":"w2"},"y2":{"field":"e2"}}},
{"data":{"name":"C_arr"},"transform":[{"filter":"datum.a == 'a1'"}],"mark":{"type":"point","shape":"triangle-up","angle":180,"filled":true,"color":"#000","size":35,"opacity":1},"encoding":{"x":{"field":"w2","type":"quantitative"},"y":{"field":"e2","type":"quantitative"}}},
{"data":{"name":"C_arr"},"transform":[{"filter":"datum.a == 'a2'"}],"mark":{"type":"point","shape":"triangle-up","angle":12,"filled":true,"color":"#000","size":35,"opacity":1},"encoding":{"x":{"field":"w2","type":"quantitative"},"y":{"field":"e2","type":"quantitative"}}},
{"data":{"name":"C_arr"},"transform":[{"filter":"datum.a == 'a3'"}],"mark":{"type":"point","shape":"triangle-up","angle":-50,"filled":true,"color":"#000","size":35,"opacity":1},"encoding":{"x":{"field":"w2","type":"quantitative"},"y":{"field":"e2","type":"quantitative"}}},
{"data":{"name":"C_txt"},"mark":{"type":"text","align":"left","baseline":"middle"},"encoding":{"text":{"field":"t"},"size":{"field":"k","type":"nominal","scale":{"type":"ordinal","domain":["sym","sub","lab","small","star","big","sup"],"range":[22,15,14,12,17,21,13]},"legend":null},"color":{"field":"c","type":"nominal","scale":{"domain":["218 K","228 K","248 K","268 K","278 K","ink"],"range":["#e8198b","#f58b3c","#8fd43a","#2ec4cc","#3399ee","#000000"]},"legend":null}}},
{"data":{"name":"C_ttl"},"mark":{"type":"text","align":"right","baseline":"middle","fontSize":21,"color":"#000"},"encoding":{"text":{"field":"t"}}}
]},
{"width":330,"height":264,"title":{"text":"D","dx":-53},
"encoding":{"x":{"field":"w","type":"quantitative","scale":{"type":"log","domain":[0.1,1e7],"nice":false},"axis":{"title":"ω (rad/s)","titleFontSize":15,"titlePadding":8}},"y":{"field":"e","type":"quantitative","scale":{"type":"log","domain":[0.001,10],"nice":false},"axis":{"title":"ε″"}}},
"layer":[
{"data":{"name":"D_pts"},"mark":{"type":"point","filled":false,"size":45,"strokeWidth":1.2,"opacity":1},"encoding":{"shape":{"field":"T","type":"nominal","scale":{"domain":["218 K","228 K","248 K","268 K","278 K"],"range":["square","circle","triangle-down","triangle-left","triangle-right"]},"legend":null},"color":{"field":"T","type":"nominal","scale":{"domain":["218 K","228 K","248 K","268 K","278 K","ink"],"range":["#e8198b","#f58b3c","#8fd43a","#2ec4cc","#3399ee","#000000"]},"legend":null}}},
{"data":{"name":"D_lines"},"mark":{"type":"line","interpolate":"monotone","color":"#000","strokeWidth":1.5,"clip":true},"encoding":{"strokeDash":{"field":"s","type":"nominal","scale":{"domain":["fit","ta","tas","tsp","einf","taB","nmB","red","redS"],"range":[[1,0],[4,3],[9,3,2,3],[1.5,2.5],[4,3],[7,5],[2.5,4.5],[7,2,2,2],[1,0]]},"legend":null},"detail":{"field":"id"}}},
{"data":{"name":"D_thick"},"mark":{"type":"line","color":"#000","strokeWidth":2.6,"clip":true},"encoding":{"strokeDash":{"field":"s","type":"nominal","scale":{"domain":["fit","ta","tas","tsp","einf","taB","nmB","red","redS"],"range":[[1,0],[4,3],[9,3,2,3],[1.5,2.5],[4,3],[7,5],[2.5,4.5],[7,2,2,2],[1,0]]},"legend":null},"detail":{"field":"id"}}},
{"data":{"name":"D_txt"},"mark":{"type":"text","align":"left","baseline":"middle"},"encoding":{"text":{"field":"t"},"size":{"field":"k","type":"nominal","scale":{"type":"ordinal","domain":["sym","sub","lab","small","star","big","sup"],"range":[22,15,14,12,17,21,13]},"legend":null},"color":{"field":"c","type":"nominal","scale":{"domain":["218 K","228 K","248 K","268 K","278 K","ink"],"range":["#e8198b","#f58b3c","#8fd43a","#2ec4cc","#3399ee","#000000"]},"legend":null}}},
{"data":{"name":"D_ttl"},"mark":{"type":"text","align":"right","baseline":"middle","fontSize":21,"color":"#000"},"encoding":{"text":{"field":"t"}}}
]},
{"width":330,"height":264,"title":{"text":"E","dx":-55},
"encoding":{"x":{"field":"w","type":"quantitative","scale":{"type":"log","domain":[0.1,1e7],"nice":false},"axis":{"title":"ω (rad/s)","titlePadding":4}},"y":{"field":"e","type":"quantitative","scale":{"type":"log","domain":[0.001,10],"nice":false},"axis":{"title":"ε″"}}},
"layer":[
{"data":{"name":"E_pts"},"mark":{"type":"point","filled":false,"size":45,"strokeWidth":1.2,"opacity":1},"encoding":{"shape":{"field":"T","type":"nominal","scale":{"domain":["218 K","228 K","248 K","268 K","278 K"],"range":["square","circle","triangle-down","triangle-left","triangle-right"]},"legend":null},"color":{"field":"T","type":"nominal","scale":{"domain":["218 K","228 K","248 K","268 K","278 K","ink"],"range":["#e8198b","#f58b3c","#8fd43a","#2ec4cc","#3399ee","#000000"]},"legend":null}}},
{"data":{"name":"E_ptsF"},"mark":{"type":"point","filled":true,"size":40,"opacity":1},"encoding":{"shape":{"field":"T","type":"nominal","scale":{"domain":["218 K","228 K","248 K","268 K","278 K"],"range":["square","circle","triangle-down","triangle-left","triangle-right"]},"legend":null},"color":{"field":"T","type":"nominal","scale":{"domain":["218 K","228 K","248 K","268 K","278 K","ink"],"range":["#e8198b","#f58b3c","#8fd43a","#2ec4cc","#3399ee","#000000"]},"legend":null}}},
{"data":{"name":"E_lines"},"mark":{"type":"line","interpolate":"monotone","color":"#000","strokeWidth":1.5,"clip":true},"encoding":{"strokeDash":{"field":"s","type":"nominal","scale":{"domain":["fit","ta","tas","tsp","einf","taB","nmB","red","redS"],"range":[[1,0],[4,3],[9,3,2,3],[1.5,2.5],[4,3],[7,5],[2.5,4.5],[7,2,2,2],[1,0]]},"legend":null},"detail":{"field":"id"}}},
{"data":{"name":"E_red"},"mark":{"type":"line","color":"#e8251f","strokeWidth":1.8,"clip":true},"encoding":{"strokeDash":{"field":"s","type":"nominal","scale":{"domain":["fit","ta","tas","tsp","einf","taB","nmB","red","redS"],"range":[[1,0],[4,3],[9,3,2,3],[1.5,2.5],[4,3],[7,5],[2.5,4.5],[7,2,2,2],[1,0]]},"legend":null},"detail":{"field":"id"}}},
{"data":{"name":"E_txt"},"mark":{"type":"text","align":"left","baseline":"middle"},"encoding":{"text":{"field":"t"},"size":{"field":"k","type":"nominal","scale":{"type":"ordinal","domain":["sym","sub","lab","small","star","big","sup"],"range":[22,15,14,12,17,21,13]},"legend":null},"color":{"field":"c","type":"nominal","scale":{"domain":["218 K","228 K","248 K","268 K","278 K","ink"],"range":["#e8198b","#f58b3c","#8fd43a","#2ec4cc","#3399ee","#000000"]},"legend":null}}},
{"data":{"name":"E_ttl"},"mark":{"type":"text","align":"right","baseline":"middle","fontSize":22,"color":"#000"},"encoding":{"text":{"field":"t"}}}
]},
{"width":330,"height":264,"title":{"text":"F","dx":-52},
"encoding":{"x":{"field":"w","type":"quantitative","scale":{"type":"log","domain":[0.1,1e7],"nice":false},"axis":{"title":"ω (rad/s)","titlePadding":4}},"y":{"field":"e","type":"quantitative","scale":{"type":"log","domain":[0.001,1],"nice":false},"axis":{"title":"ε″"}}},
"layer":[
{"data":{"name":"F_pts"},"mark":{"type":"point","filled":false,"size":45,"strokeWidth":1.2,"opacity":1},"encoding":{"shape":{"field":"T","type":"nominal","scale":{"domain":["218 K","228 K","248 K","268 K","278 K"],"range":["square","circle","triangle-down","triangle-left","triangle-right"]},"legend":null},"color":{"field":"T","type":"nominal","scale":{"domain":["218 K","228 K","248 K","268 K","278 K","ink"],"range":["#e8198b","#f58b3c","#8fd43a","#2ec4cc","#3399ee","#000000"]},"legend":null}}},
{"data":{"name":"F_lines"},"mark":{"type":"line","interpolate":"monotone","color":"#000","strokeWidth":1.5,"clip":true},"encoding":{"strokeDash":{"field":"s","type":"nominal","scale":{"domain":["fit","ta","tas","tsp","einf","taB","nmB","red","redS"],"range":[[1,0],[4,3],[9,3,2,3],[1.5,2.5],[4,3],[7,5],[2.5,4.5],[7,2,2,2],[1,0]]},"legend":null},"detail":{"field":"id"}}},
{"data":{"name":"F_arr"},"mark":{"type":"rule","color":"#000","strokeWidth":1.3},"encoding":{"x2":{"field":"w2"},"y2":{"field":"e2"}}},
{"data":{"name":"F_arr"},"transform":[{"filter":"datum.a == 'b1'"}],"mark":{"type":"point","shape":"triangle-up","angle":60,"filled":true,"color":"#000","size":35,"opacity":1},"encoding":{"x":{"field":"w2","type":"quantitative"},"y":{"field":"e2","type":"quantitative"}}},
{"data":{"name":"F_arr"},"transform":[{"filter":"datum.a == 'b2'"}],"mark":{"type":"point","shape":"triangle-up","angle":64,"filled":true,"color":"#000","size":35,"opacity":1},"encoding":{"x":{"field":"w2","type":"quantitative"},"y":{"field":"e2","type":"quantitative"}}},
{"data":{"name":"F_txt"},"mark":{"type":"text","align":"left","baseline":"middle"},"encoding":{"text":{"field":"t"},"size":{"field":"k","type":"nominal","scale":{"type":"ordinal","domain":["sym","sub","lab","small","star","big","sup"],"range":[22,15,14,12,17,21,13]},"legend":null},"color":{"field":"c","type":"nominal","scale":{"domain":["218 K","228 K","248 K","268 K","278 K","ink"],"range":["#e8198b","#f58b3c","#8fd43a","#2ec4cc","#3399ee","#000000"]},"legend":null}}},
{"data":{"name":"F_ttl"},"mark":{"type":"text","align":"right","baseline":"middle","fontSize":22,"color":"#000"},"encoding":{"text":{"field":"t"}}}
]}
],
"config":{
"view":{"stroke":null},
"font":"Liberation Sans",
"legend":{"disable":true},
"title":{"anchor":"start","frame":"group","fontSize":24,"fontWeight":"bold","font":"Liberation Sans","color":"#000","offset":-6,"baseline":"alphabetic"},
"text":{"font":"Liberation Sans"},
"axis":{"grid":false,"domainColor":"#000","tickColor":"#000","labelColor":"#000","titleColor":"#000","labelFont":"Liberation Sans","labelFontSize":15,"titleFont":"Liberation Sans","titleFontSize":20,"titleFontWeight":"normal","tickCount":20,"labelOverlap":false,"labelFlush":false,"labelBound":false,"domainWidth":1.2,"tickWidth":1,"labelPadding":2,"titlePadding":4,
"labelExpr":"abs(log(datum.value)/LN10 - round(log(datum.value)/LN10)) < 0.01 ? '10' + ['⁻³','⁻²','⁻¹','⁰','¹','²','³','⁴','⁵','⁶','⁷'][round(log(datum.value)/LN10)+3] : ''",
"tickSize":{"condition":{"test":"abs(log(datum.value)/LN10 - round(log(datum.value)/LN10)) < 0.01","value":6},"value":3}},
"axisX":{"titlePadding":2}
}
}
